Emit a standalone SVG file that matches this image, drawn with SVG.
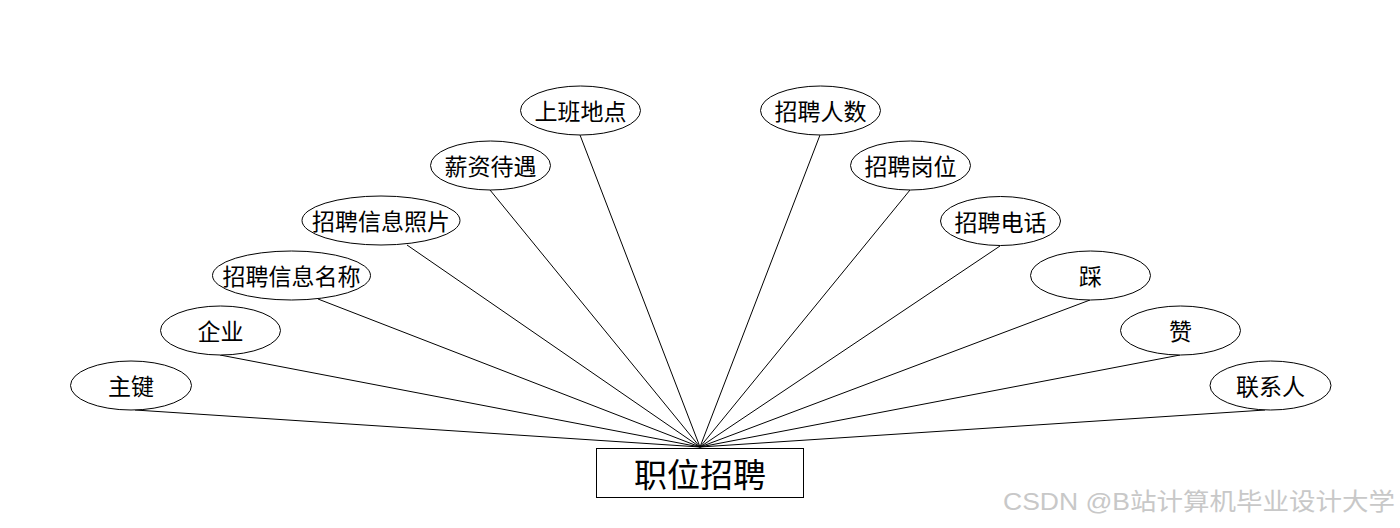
<svg xmlns="http://www.w3.org/2000/svg" width="1400" height="528" viewBox="0 0 1400 528">
<style>
.e{fill:#fff;stroke:#000;stroke-width:1}
.t{font-family:"Noto Sans CJK SC","Microsoft YaHei",sans-serif;font-size:23px;fill:#000;text-anchor:middle;dominant-baseline:central}
.c line{stroke:#000;stroke-width:1}
.wm{font-family:"Liberation Sans","Noto Sans CJK SC",sans-serif;font-size:24px;fill:#c8c8c8}
</style>
<rect width="1400" height="528" fill="#fff"/>
<g id="connectors" class="c">
<line x1="135" y1="410" x2="700" y2="447"/>
<line x1="220" y1="355" x2="700" y2="447"/>
<line x1="318" y1="299" x2="700" y2="447"/>
<line x1="407" y1="245" x2="700" y2="447"/>
<line x1="490" y1="190" x2="700" y2="447"/>
<line x1="580" y1="135" x2="700" y2="447"/>
<line x1="820" y1="135" x2="700" y2="447"/>
<line x1="910" y1="190" x2="700" y2="447"/>
<line x1="1000" y1="246" x2="700" y2="447"/>
<line x1="1090" y1="300" x2="700" y2="447"/>
<line x1="1180" y1="355" x2="700" y2="447"/>
<line x1="1265" y1="410" x2="700" y2="447"/>
</g>
<g id="n-zhujian"><ellipse class="e" cx="131" cy="385.5" rx="60.5" ry="24.5"/><text class="t" x="131" y="385">主键</text></g>
<g id="n-qiye"><ellipse class="e" cx="220.5" cy="330.5" rx="60" ry="24.5"/><text class="t" x="220.5" y="330">企业</text></g>
<g id="n-mingcheng"><ellipse class="e" cx="291.5" cy="275.5" rx="79" ry="24.5"/><text class="t" x="291.5" y="275">招聘信息名称</text></g>
<g id="n-zhaopian"><ellipse class="e" cx="381" cy="220.5" rx="79" ry="24.5"/><text class="t" x="381" y="220">招聘信息照片</text></g>
<g id="n-xinzi"><ellipse class="e" cx="490.5" cy="165.5" rx="60" ry="24.5"/><text class="t" x="490.5" y="165">薪资待遇</text></g>
<g id="n-didian"><ellipse class="e" cx="580.5" cy="110.5" rx="60" ry="24.5"/><text class="t" x="580.5" y="110">上班地点</text></g>
<g id="n-renshu"><ellipse class="e" cx="820.5" cy="110.5" rx="60" ry="24.5"/><text class="t" x="820.5" y="110">招聘人数</text></g>
<g id="n-gangwei"><ellipse class="e" cx="910.5" cy="165.5" rx="60" ry="24.5"/><text class="t" x="910.5" y="165">招聘岗位</text></g>
<g id="n-dianhua"><ellipse class="e" cx="1000.5" cy="221" rx="60" ry="24.5"/><text class="t" x="1000.5" y="220.5">招聘电话</text></g>
<g id="n-cai"><ellipse class="e" cx="1090.5" cy="275.5" rx="60" ry="24.5"/><text class="t" x="1090.5" y="275">踩</text></g>
<g id="n-zan"><ellipse class="e" cx="1180.5" cy="330.5" rx="60" ry="24.5"/><text class="t" x="1180.5" y="330">赞</text></g>
<g id="n-lianxiren"><ellipse class="e" cx="1270.5" cy="385.5" rx="60.5" ry="24.5"/><text class="t" x="1270.5" y="385">联系人</text></g>
<g id="n-zhiwei"><rect x="596.5" y="448.5" width="207" height="49" fill="#fff" stroke="#000" stroke-width="1"/><text class="t" x="700" y="472.5" style="font-size:33px">职位招聘</text></g>
<text class="wm" x="1003" y="510" textLength="392" lengthAdjust="spacingAndGlyphs">CSDN @B站计算机毕业设计大学</text>
</svg>
